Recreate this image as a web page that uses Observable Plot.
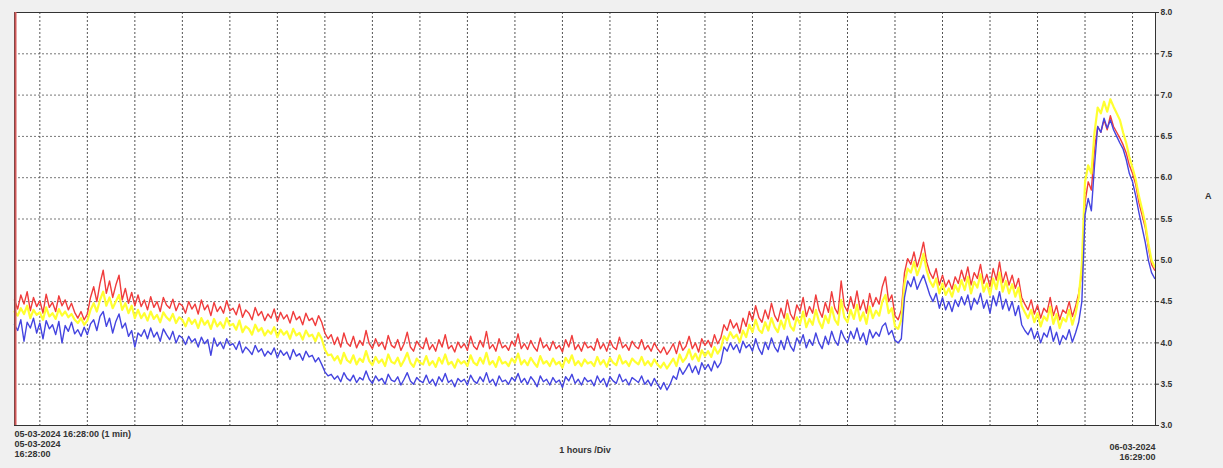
<!DOCTYPE html>
<html><head><meta charset="utf-8">
<script src="https://cdn.jsdelivr.net/npm/d3@7"></script>
<script src="https://cdn.jsdelivr.net/npm/@observablehq/plot@0.6"></script>
<style>
html,body{margin:0;padding:0;background:#f0f0f0;}
#chart{width:1223px;height:468px;}
</style></head><body><div id="chart"></div>
<script>
// Labels
const startLabel = "05-03-2024 16:28:00 (1 min)";
const startDate = "05-03-2024";
const startTime = "16:28:00";
const endDate = "06-03-2024";
const endTime = "16:29:00";
const divLabel = "1 hours /Div";
const unitLabel = "A";
const yTicks = [3.0,3.5,4.0,4.5,5.0,5.5,6.0,6.5,7.0,7.5,8.0];
const sampleMinutes = 4;

// Series values (A), one sample every 4 minutes from 05-03-2024 16:28
const redValues = [
4.52,4.41,4.58,4.47,4.62,4.39,4.55,4.44,4.51,4.36,4.59,4.43,4.49,4.38,4.57,4.45,4.52,4.40,4.48,4.37,
4.30,4.38,4.28,4.35,4.55,4.68,4.50,4.72,4.88,4.60,4.75,4.55,4.70,4.82,4.52,4.66,4.48,4.61,4.45,4.58,
4.44,4.52,4.40,4.56,4.43,4.50,4.38,4.55,4.46,4.42,4.53,4.39,4.48,4.45,4.36,4.50,4.41,4.47,4.35,4.52,
4.40,4.46,4.33,4.49,4.38,4.44,4.36,4.51,4.39,4.42,4.34,4.47,4.31,4.40,4.36,4.28,4.43,4.33,4.38,4.27,
4.35,4.30,4.41,4.26,4.37,4.29,4.34,4.24,4.38,4.28,4.32,4.22,4.36,4.27,4.30,4.21,4.33,4.25,4.12,4.05,
4.10,3.98,4.07,3.95,4.12,4.00,3.96,4.08,3.94,4.03,3.97,4.15,3.99,3.93,4.05,3.96,4.01,3.92,4.09,3.97,
3.94,4.04,3.91,3.99,4.13,3.95,3.90,4.02,3.96,3.93,4.06,3.92,3.98,3.90,4.04,3.95,4.10,3.93,3.97,3.89,
4.01,3.94,3.99,3.91,4.08,3.96,3.92,4.03,3.95,4.14,3.93,3.98,3.90,4.05,3.94,3.97,3.91,4.02,3.96,4.11,
3.93,3.99,3.92,4.03,3.95,3.90,4.06,3.94,3.98,3.91,4.02,3.93,3.97,3.89,4.04,3.95,4.09,3.92,3.98,3.90,
4.01,3.94,3.96,3.91,4.05,3.93,3.99,3.90,4.03,3.95,3.92,4.07,3.94,3.98,3.91,4.02,3.96,3.93,4.04,3.92,
3.97,3.90,4.00,3.93,3.88,3.95,3.86,3.92,3.99,3.87,4.02,3.91,3.96,4.08,3.93,4.00,3.89,4.05,3.97,4.03,
3.95,4.10,3.99,4.06,4.22,4.15,4.28,4.18,4.24,4.12,4.30,4.20,4.38,4.27,4.45,4.31,4.25,4.40,4.29,4.48,
4.33,4.26,4.42,4.30,4.52,4.35,4.28,4.46,4.38,4.55,4.32,4.44,4.36,4.58,4.40,4.31,4.49,4.37,4.62,4.42,
4.35,4.75,4.45,4.38,4.56,4.42,4.63,4.40,4.52,4.36,4.60,4.44,4.55,4.47,4.68,4.80,4.50,4.58,4.33,4.28,
4.40,4.85,5.02,4.95,5.10,4.92,5.05,5.22,4.98,4.85,4.78,4.90,4.70,4.82,4.68,4.76,4.65,4.80,4.72,4.88,
4.75,4.92,4.70,4.85,4.78,4.95,4.72,4.83,4.68,4.90,4.76,4.98,4.73,4.86,4.70,4.82,4.66,4.78,4.55,4.47,
4.40,4.52,4.35,4.46,4.30,4.42,4.37,4.55,4.33,4.45,4.28,4.40,4.36,4.50,4.32,4.44,4.60,4.85,5.70,5.95,
5.85,6.35,6.62,6.55,6.70,6.58,6.75,6.62,6.55,6.48,6.40,6.30,6.15,6.05,5.92,5.70,5.55,5.40,5.15,4.95,4.88
];
const yellowValues = [
4.38,4.33,4.42,4.35,4.45,4.30,4.40,4.34,4.37,4.28,4.43,4.32,4.36,4.29,4.41,4.33,4.38,4.31,4.35,4.28,
4.24,4.30,4.22,4.27,4.40,4.48,4.38,4.52,4.62,4.45,4.55,4.42,4.50,4.58,4.40,4.48,4.36,4.45,4.30,4.40,
4.30,4.36,4.27,4.38,4.29,4.34,4.25,4.37,4.31,4.27,4.35,4.24,4.31,4.28,4.20,4.30,4.23,4.28,4.18,4.30,
4.22,4.27,4.17,4.29,4.20,4.25,4.18,4.30,4.21,4.23,4.16,4.27,4.13,4.20,4.17,4.10,4.22,4.14,4.18,4.09,
4.15,4.11,4.19,4.07,4.16,4.10,4.14,4.05,4.17,4.09,4.12,4.04,4.15,4.08,4.10,4.02,4.12,4.05,3.92,3.85,
3.86,3.79,3.84,3.75,3.88,3.79,3.76,3.85,3.74,3.81,3.77,3.90,3.78,3.73,3.83,3.76,3.80,3.72,3.86,3.77,
3.75,3.82,3.72,3.79,3.88,3.76,3.71,3.81,3.76,3.74,3.84,3.73,3.78,3.71,3.82,3.75,3.86,3.74,3.77,3.70,
3.80,3.75,3.78,3.72,3.85,3.76,3.73,3.82,3.75,3.88,3.74,3.78,3.71,3.83,3.75,3.77,3.72,3.81,3.76,3.87,
3.74,3.79,3.73,3.82,3.76,3.71,3.84,3.75,3.78,3.72,3.81,3.74,3.77,3.70,3.82,3.76,3.85,3.73,3.78,3.72,
3.80,3.75,3.77,3.72,3.83,3.74,3.79,3.71,3.82,3.76,3.73,3.85,3.75,3.78,3.72,3.81,3.77,3.74,3.83,3.73,
3.78,3.72,3.80,3.74,3.70,3.76,3.69,3.75,3.81,3.72,3.86,3.77,3.82,3.92,3.80,3.87,3.78,3.91,3.84,3.90,
3.83,3.95,3.87,3.93,4.08,4.03,4.13,4.06,4.10,4.01,4.15,4.07,4.22,4.13,4.28,4.16,4.12,4.25,4.15,4.30,
4.19,4.13,4.27,4.17,4.35,4.20,4.15,4.31,4.23,4.38,4.19,4.29,4.22,4.40,4.26,4.18,4.33,4.24,4.43,4.28,
4.22,4.52,4.31,4.25,4.40,4.29,4.46,4.27,4.37,4.23,4.44,4.30,4.39,4.33,4.50,4.58,4.36,4.42,4.20,4.17,
4.28,4.72,4.90,4.85,4.98,4.82,4.93,5.08,4.88,4.75,4.68,4.78,4.60,4.72,4.58,4.66,4.56,4.70,4.62,4.76,
4.64,4.80,4.60,4.74,4.67,4.83,4.62,4.72,4.58,4.78,4.65,4.85,4.62,4.75,4.60,4.71,4.56,4.67,4.45,4.37,
4.30,4.40,4.25,4.36,4.20,4.32,4.27,4.44,4.23,4.35,4.18,4.30,4.26,4.40,4.22,4.35,4.55,4.95,5.95,6.15,
6.05,6.55,6.85,6.78,6.92,6.80,6.95,6.86,6.78,6.70,6.55,6.42,6.25,6.12,5.98,5.78,5.62,5.45,5.20,5.00,4.92
];
const blueValues = [
4.22,4.15,4.28,4.02,4.25,4.18,4.30,4.12,4.24,4.05,4.27,4.17,4.22,4.10,4.26,4.00,4.21,4.14,4.25,4.11,
4.16,4.08,4.19,4.10,4.23,4.28,4.15,4.32,4.38,4.20,4.30,4.12,4.26,4.35,4.18,4.24,4.08,4.15,3.95,4.12,
4.08,4.16,4.05,4.18,4.07,4.13,4.02,4.17,4.10,4.04,4.14,4.00,4.09,4.06,3.98,4.08,4.01,4.05,3.95,4.07,
3.99,4.04,3.85,4.06,3.96,4.01,3.93,4.05,3.97,3.99,3.92,4.02,3.88,3.95,3.91,3.86,3.97,3.89,3.93,3.84,
3.90,3.86,3.94,3.82,3.91,3.85,3.89,3.80,3.92,3.84,3.87,3.79,3.90,3.83,3.85,3.77,3.82,3.74,3.65,3.60,
3.62,3.56,3.60,3.53,3.64,3.57,3.54,3.61,3.52,3.58,3.55,3.66,3.56,3.51,3.60,3.54,3.57,3.50,3.62,3.55,
3.53,3.59,3.49,3.56,3.64,3.54,3.50,3.58,3.54,3.52,3.61,3.51,3.56,3.48,3.59,3.53,3.63,3.52,3.55,3.47,
3.57,3.53,3.56,3.49,3.61,3.54,3.51,3.59,3.53,3.64,3.52,3.56,3.48,3.60,3.53,3.55,3.50,3.58,3.54,3.63,
3.52,3.57,3.50,3.59,3.54,3.47,3.60,3.53,3.56,3.49,3.58,3.52,3.55,3.46,3.59,3.54,3.62,3.51,3.56,3.49,
3.58,3.53,3.55,3.48,3.60,3.52,3.57,3.47,3.59,3.54,3.51,3.62,3.53,3.56,3.49,3.58,3.55,3.52,3.60,3.50,
3.55,3.48,3.57,3.50,3.44,3.52,3.43,3.50,3.60,3.56,3.70,3.62,3.68,3.75,3.64,3.72,3.62,3.76,3.68,3.74,
3.66,3.78,3.70,3.76,3.95,3.90,4.00,3.92,3.98,3.88,4.02,3.94,3.98,3.90,4.05,3.93,3.86,4.01,3.92,4.06,
3.95,3.89,4.03,3.92,4.08,3.96,3.90,4.06,3.99,4.10,3.94,4.04,3.97,4.12,4.00,3.93,4.08,3.98,4.14,4.03,
3.97,4.15,4.06,4.00,4.14,4.05,4.18,4.03,4.12,3.98,4.16,4.06,4.13,4.08,4.20,4.24,4.10,4.15,4.03,4.00,
4.05,4.55,4.75,4.68,4.80,4.65,4.74,4.82,4.70,4.58,4.50,4.60,4.42,4.55,4.40,4.50,4.38,4.52,4.44,4.56,
4.46,4.58,4.40,4.54,4.47,4.60,4.42,4.52,4.36,4.57,4.45,4.62,4.41,4.53,4.39,4.50,4.33,4.45,4.22,4.15,
4.10,4.18,4.05,4.14,4.00,4.12,4.07,4.20,4.02,4.13,3.98,4.09,4.04,4.16,4.01,4.12,4.25,4.50,5.55,5.75,
5.60,6.15,6.62,6.55,6.72,6.60,6.70,6.58,6.50,6.42,6.35,6.22,6.05,5.95,5.78,5.58,5.40,5.22,5.00,4.85,4.78
];

const t0 = Date.UTC(2024, 2, 5, 16, 28);
const tEnd = Date.UTC(2024, 2, 6, 16, 29);
const toRows = (vals) => vals.map((v, i) => ({t: new Date(t0 + i * sampleMinutes * 60000), v}));
const redRows = toRows(redValues), yellowRows = toRows(yellowValues), blueRows = toRows(blueValues);
const hourTicks = d3.utcHour.range(new Date(t0), new Date(tEnd));
const yGrid = yTicks.filter(d => d > 3 && d < 8);

const chart = Plot.plot({
  width: 1223, height: 468,
  marginLeft: 14, marginRight: 68, marginTop: 12, marginBottom: 43,
  style: {background: "transparent", fontFamily: "'Liberation Sans', Arial, sans-serif", fontSize: "9px", color: "#222"},
  x: {type: "utc", domain: [new Date(t0), new Date(tEnd)], axis: null},
  y: {domain: [3, 8], axis: null},
  marks: [
    Plot.frame({fill: "white"}),
    Plot.gridY(yGrid, {stroke: "#777", strokeOpacity: 1, strokeDasharray: "2,2"}),
    Plot.gridX(hourTicks, {stroke: "#555", strokeOpacity: 1, strokeDasharray: "2,2"}),
    Plot.line(redRows, {x: "t", y: "v", stroke: "#f03c3c", strokeWidth: 1.4}),
    Plot.line(yellowRows, {x: "t", y: "v", stroke: "#ffff30", strokeWidth: 2.2}),
    Plot.line(blueRows, {x: "t", y: "v", stroke: "#4444e0", strokeWidth: 1.4}),
    Plot.frame({stroke: "#333"}),
    Plot.ruleX([new Date(t0)], {stroke: "#d05858", strokeWidth: 2, dx: 1}),
    Plot.axisY(yTicks, {anchor: "right", tickSize: 3, tickPadding: 2, tickFormat: d => d.toFixed(1), fontWeight: "bold", fontSize: 8.5, fill: "#333", stroke: "#333", label: null}),
    Plot.text([unitLabel], {frameAnchor: "right", dx: 56, dy: -23, fontWeight: "bold", fontSize: 9, fill: "#333"}),
    Plot.text([startLabel], {frameAnchor: "bottom-left", textAnchor: "start", lineAnchor: "middle", dy: 9, fontWeight: "bold", fill: "#333"}),
    Plot.text([startDate], {frameAnchor: "bottom-left", textAnchor: "start", lineAnchor: "middle", dy: 19, fontWeight: "bold", fill: "#333"}),
    Plot.text([startTime], {frameAnchor: "bottom-left", textAnchor: "start", lineAnchor: "middle", dy: 29, fontWeight: "bold", fill: "#333"}),
    Plot.text([divLabel], {frameAnchor: "bottom", lineAnchor: "middle", dy: 25, fontWeight: "bold", fill: "#333"}),
    Plot.text([endDate], {frameAnchor: "bottom-right", textAnchor: "end", lineAnchor: "middle", dy: 22, fontWeight: "bold", fill: "#333"}),
    Plot.text([endTime], {frameAnchor: "bottom-right", textAnchor: "end", lineAnchor: "middle", dy: 32, fontWeight: "bold", fill: "#333"})
  ]
});
document.getElementById("chart").appendChild(chart);
</script>
</body></html>
